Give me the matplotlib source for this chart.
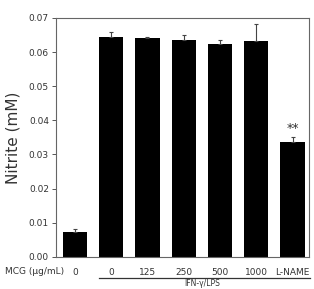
import matplotlib.pyplot as plt
import matplotlib.transforms as mtransforms

doses = ["0", "0", "125", "250", "500", "1000", "L-NAME"]
nitrite = [0.0074, 0.0645, 0.0641, 0.0634, 0.0623, 0.0631, 0.0337]
errors = [0.0007, 0.0013, 0.0002, 0.0016, 0.0013, 0.0051, 0.0015]
yticks = [0.00, 0.01, 0.02, 0.03, 0.04, 0.05, 0.06, 0.07]

txt = "#333333"
fig = plt.figure(figsize=(3.14, 2.89), dpi=100)
ax = fig.add_axes([0.178, 0.111, 0.806, 0.827])

pos = list(range(len(nitrite)))
ax.bar(pos, nitrite, width=0.67, color="black", zorder=2)
ax.errorbar(pos, nitrite, yerr=[[0] * len(errors), errors], fmt="none",
            ecolor="#444444", elinewidth=0.8, capsize=1.5, capthick=0.8, zorder=3)

ax.text(6, nitrite[6] + errors[6] + 0.0006, "**", ha="center", va="bottom",
        fontsize=9, color=txt)

ax.set_xlim(-0.52, 6.45)
ax.set_ylim(0, 0.07)
ax.set_yticks(yticks)
ax.set_yticklabels(["%.2f" % v for v in yticks], fontsize=6.5, color=txt)
ax.set_xticks(pos)
ax.set_xticklabels(doses, fontsize=6.5, color=txt)
ax.tick_params(axis="x", length=0, pad=8)
ax.tick_params(axis="y", length=3, width=0.7, color="#555555", pad=2)
ax.set_ylabel("Nitrite (mM)", fontsize=11, color=txt, labelpad=6)
for s in ax.spines.values():
    s.set_color("#666666")
    s.set_linewidth(0.8)

# group labels below the axis
fig.text(0.016, 0.062, "MCG (\u00b5g/mL)", ha="left", va="center",
         fontsize=6.5, color=txt)
trans = mtransforms.blended_transform_factory(ax.transData, ax.transAxes)
ax.plot([0.66, 6.47], [-0.09, -0.09], transform=trans, color="#333333",
        lw=0.9, clip_on=False)
ax.text(3.5, -0.113, "IFN-\u03b3/LPS", transform=trans, ha="center", va="center",
        fontsize=5.5, color=txt)

fig.savefig("out.png", dpi=100)
